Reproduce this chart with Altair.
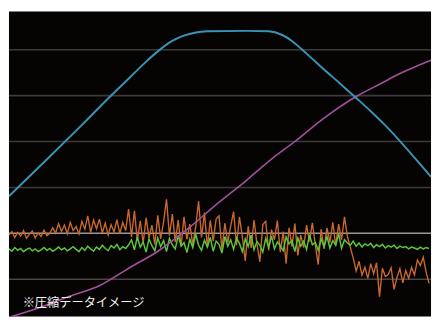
import altair as alt
import pandas as pd

# ---- data (units: one grid step = 10) ----
blue_x = [6, 47, 80, 110, 130, 147, 160, 173, 185, 197, 210, 250, 273, 287, 297, 307, 318, 330, 345, 363, 378, 393, 408, 423, 440]
blue_y = [18.1, 26.5, 33.4, 39.8, 43.9, 47.4, 49.8, 51.8, 53.0, 53.7, 54.0, 54.1, 54.0, 53.2, 51.9, 50.1, 48.0, 45.7, 42.9, 39.5, 36.6, 33.5, 30.1, 26.5, 22.3]

purple_x = [6, 40, 67, 100, 130, 160, 190, 220, 250, 275, 300, 330, 363, 390, 407, 425, 440]
purple_y = [-8.3, -6.0, -3.8, -1.3, 2.5, 6.2, 11.0, 16.4, 21.5, 26.0, 30.0, 35.1, 39.8, 42.8, 44.7, 46.4, 47.7]

orange_y = [
    9.6, 10.4, 9.1, 10.2, 9.4, 10.6, 8.9, 9.8, 10.5, 9.0, 10.1, 9.3, 10.7, 9.5, 10.0,
    11.2, 10.0, 12.1, 10.4, 11.8, 9.9, 12.4, 10.6, 11.5, 9.8, 12.6, 10.9, 13.8, 10.2, 12.9,
    11.0, 13.1, 10.1, 12.2, 9.6, 11.9, 10.3, 13.0, 9.9, 12.4, 10.6, 15.3,
    9.2, 14.9, 8.4, 12.7, 7.9, 13.4, 9.0, 11.8, 7.6, 13.9,
    8.8, 12.5, 17.4, 9.5, 14.2, 8.1, 12.9, 7.2, 13.6, 8.7,
    12.0, 7.5, 11.4, 17.0, 9.1, 14.5, 7.0, 12.8, 8.3, 13.1,
    13.8, 6.5, 12.2, 8.0, 11.6, 14.7, 7.4, 13.6, 9.2, 4.0,
    11.5, 6.8, 12.9, 7.7, 3.8, 11.9, 12.6, 6.3, 10.8, 8.6,
    12.8, 5.9, 10.4, 3.4, 11.2, 7.1, 12.1, 5.2, 9.6, 6.9,
    11.8, 8.2, 12.3, 7.5, 3.2, 10.9, 6.6, 11.2, 8.0, 12.4,
    7.3, 12.0, 8.6, 13.6, 9.3,
    7.0, 4.6, 1.8, 3.9, 0.9, 2.6, 0.2, 3.4, 1.2, 3.6,
    -3.8, 2.4, 0.6, 1.0, 2.5, -2.2, 0.4, 2.3, -0.8, 1.9,
    0.2, 2.6, 0.9, 4.2, 3.0, 4.8, 1.5, -0.9,
]

green_y = [
    6.6, 6.1, 6.9, 6.3, 6.7, 6.0, 6.5, 6.8, 6.2, 6.6,
    6.0, 6.4, 6.9, 6.3, 6.7, 6.1, 6.5, 7.0, 6.4, 6.8,
    6.2, 6.6, 7.1, 6.5, 6.0, 6.9, 6.3, 7.2, 6.6, 6.1,
    7.0, 6.5, 7.4, 6.7, 6.2, 7.3, 6.8, 7.6, 6.4, 7.1,
    6.7, 7.5,
    8.6, 6.4, 9.2, 7.0, 8.1, 5.9, 8.8, 7.3, 6.2, 9.0,
    7.1, 8.4, 6.0, 8.9, 7.5, 6.6, 9.5, 7.2, 8.0, 5.8,
    8.7, 6.9, 9.8, 7.4, 6.3, 8.5, 7.0, 9.1, 6.1, 8.3,
    7.6, 5.7, 9.3, 7.2, 8.6, 6.5, 9.0, 7.8, 6.0, 8.8,
    7.1, 9.6, 6.4, 8.2, 7.4, 5.9, 8.9, 7.0, 9.4, 6.6,
    8.1, 7.3, 6.2, 9.2, 7.7, 8.5, 6.0, 9.0, 7.2, 8.3,
    6.5, 9.7, 7.5, 8.0, 6.3, 8.8, 7.1, 9.3, 6.8, 8.4,
    7.4, 9.9, 6.7, 8.6, 7.9,
    7.4, 8.3, 7.2, 7.9, 7.0, 7.7, 7.3, 7.8, 6.9, 7.5,
    7.1, 7.6, 6.8, 7.3, 7.0, 7.4, 6.7, 7.2, 6.9, 7.1,
    6.6, 7.0, 6.8, 6.5, 7.0, 6.6, 6.9, 6.7,
]

assert len(orange_y) == 145, len(orange_y)
assert len(green_y) == 145, len(green_y)
sample_x = [6 + 3 * i for i in range(len(orange_y))]

grid_levels = [0, 10, 20, 30, 40, 50]
grid_colors = ["#4a4545", "#9a9898", "#3e3a3a", "#3e3a3a", "#3e3a3a", "#3e3a3a"]

note_text = "※圧縮データイメージ"

# ---- frames ----
blue_df = pd.DataFrame({"t": blue_x, "v": blue_y})
purple_df = pd.DataFrame({"t": purple_x, "v": purple_y})
orange_df = pd.DataFrame({"t": sample_x, "v": orange_y})
green_df = pd.DataFrame({"t": sample_x, "v": green_y})
grid_df = pd.DataFrame({"v": grid_levels, "c": grid_colors})

xs = alt.Scale(domain=[6, 440], nice=False, zero=False)
ys = alt.Scale(domain=[-8.1, 58.3], nice=False, zero=False)
X = alt.X("t:Q", scale=xs, axis=None)
Y = alt.Y("v:Q", scale=ys, axis=None)

grid = alt.Chart(grid_df).mark_rule(strokeWidth=1.6).encode(
    y=alt.Y("v:Q", scale=ys, axis=None),
    color=alt.Color("c:N", scale=None),
)

def line(df, color, width, interp="linear"):
    return alt.Chart(df).mark_line(color=color, strokeWidth=width, interpolate=interp, clip=True).encode(
        x=X, y=Y, order="t:Q"
    )

orange = line(orange_df, "#c9692e", 1.4)
green = line(green_df, "#5cc63c", 1.5)
purple = line(purple_df, "#a3509f", 1.6, "monotone")
blue = line(blue_df, "#3a93b5", 2.0, "monotone")

note = alt.Chart(pd.DataFrame({"label": [note_text]})).mark_text(
    align="left", baseline="alphabetic", font="Noto Sans CJK JP", fontSize=12.5, color="#f2f2f2"
).encode(x=alt.value(14), y=alt.value(302), text="label:N")

chart = alt.layer(grid, orange, green, purple, blue, note).properties(
    width=432, height=312, padding=0, background="white"
).configure_view(fill="#060303", strokeWidth=0)

chart.save("out.html", embed_options={"renderer": "svg", "actions": False})
